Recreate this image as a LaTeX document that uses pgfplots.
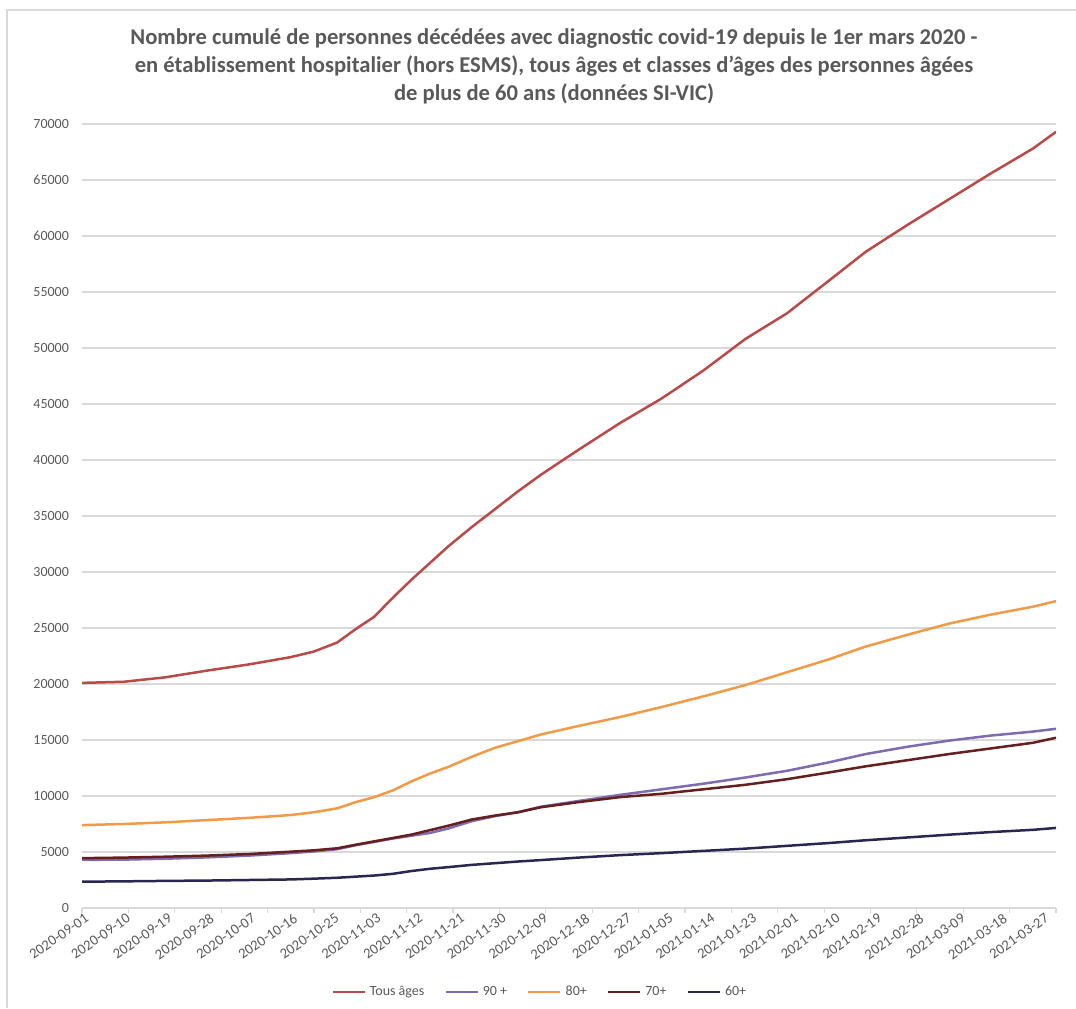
\documentclass[border=0pt]{standalone}
\usepackage{fontspec}
\setmainfont{Carlito}
\usepackage{pgfplots}
\pgfplotsset{compat=1.18}
\usepackage{pgfplotstable}

\definecolor{ctous}{HTML}{B94A48}
\definecolor{c90}{HTML}{7E6BB0}
\definecolor{c80}{HTML}{F39A47}
\definecolor{c70}{HTML}{651F1F}
\definecolor{c60}{HTML}{29264F}
\definecolor{txt}{HTML}{595959}
\definecolor{gridc}{HTML}{D9D9D9}

% day 0 = 2020-09-01
\pgfplotstableread{
d    tous   p90    p80    p70    p60
0    20100  4300   7400   4450   2350
9    20200  4320   7500   4500   2380
18   20600  4400   7650   4580   2420
27   21200  4520   7850   4680   2450
36   21750  4680   8050   4820   2500
45   22400  4900   8300   5030   2550
50   22900  5050   8550   5150   2620
55   23700  5250   8900   5330   2700
59   24900  5600   9450   5650   2800
63   26000  5900   9900   5950   2900
67   27700  6200   10500  6250   3050
71   29300  6450   11300  6550   3300
75   30800  6700   12000  6950   3500
79   32300  7100   12600  7350   3650
84   34000  7750   13500  7900   3850
89   35600  8200   14300  8250   4000
94   37200  8550   14900  8550   4150
99   38700  9050   15500  9000   4280
107  40900  9550   16250  9450   4500
116  43300  10100  17050  9900   4720
125  45500  10600  17950  10200  4900
134  48000  11100  18900  10600  5100
143  50800  11650  19900  11000  5300
152  53100  12250  21050  11500  5550
161  56000  13000  22200  12100  5800
169  58600  13750  23350  12650  6050
178  61000  14400  24400  13200  6300
187  63300  14950  25400  13750  6550
196  65600  15400  26200  14250  6780
205  67800  15750  26900  14750  6980
210  69300  16000  27400  15200  7150
}\deces

\begin{document}
\begin{tikzpicture}
\path[use as bounding box] (0,0) rectangle (538pt,504pt);
\draw[gridc, line width=0.6pt] (3.5pt,0pt) -- (3.5pt,499pt) -- (538pt,499pt);
\node[anchor=base, font=\bfseries\fontsize{11.3}{13}\selectfont, text=txt] at (277pt,481.5pt)
  {Nombre cumulé de personnes décédées avec diagnostic covid-19 depuis le 1er mars 2020 -};
\node[anchor=base, font=\bfseries\fontsize{11.3}{13}\selectfont, text=txt] at (277pt,467.5pt)
  {en établissement hospitalier (hors ESMS), tous âges et classes d'âges des personnes âgées};
\node[anchor=base, font=\bfseries\fontsize{11.3}{13}\selectfont, text=txt] at (277pt,453.5pt)
  {de plus de 60 ans (données SI-VIC)};
\begin{axis}[
    at={(41pt,50pt)}, anchor=south west,
    scale only axis,
    width=487pt, height=392pt,
    xmin=0, xmax=210,
    ymin=0, ymax=70000,
    ytick={0,5000,...,70000},
    scaled y ticks=false,
    /pgf/number format/1000 sep={},
    /pgf/number format/assume math mode=true,
    ymajorgrids,
    grid style={gridc, line width=0.6pt},
    axis x line*=bottom,
    axis y line*=left,
    x axis line style={gridc, line width=0.8pt, -},
    y axis line style={draw=none},
    xtick={0,9,...,207},
    xticklabels={2020-09-01,2020-09-10,2020-09-19,2020-09-28,2020-10-07,2020-10-16,2020-10-25,2020-11-03,2020-11-12,2020-11-21,2020-11-30,2020-12-09,2020-12-18,2020-12-27,2021-01-05,2021-01-14,2021-01-23,2021-02-01,2021-02-10,2021-02-19,2021-02-28,2021-03-09,2021-03-18,2021-03-27},
    minor xtick={0,10,...,210},
    major tick length=0pt,
    minor tick length=2.5pt,
    tick align=outside,
    xtick style={gridc, line width=0.6pt},
    ytick style={draw=none},
    xticklabel style={font=\fontsize{7.3}{8}\selectfont, text=txt, rotate=35, anchor=north east, xshift=3pt, yshift=1pt},
    yticklabel style={font=\fontsize{7}{8}\selectfont, text=txt, xshift=-3pt},
    legend columns=5,
    legend style={at={(0.471,0)}, yshift=-42pt, anchor=center, draw=none,
      font=\fontsize{7}{8}\selectfont, text=txt,
      /tikz/every even column/.append style={column sep=8pt}},
    legend image code/.code={\draw[#1] (0pt,0pt) -- (16pt,0pt);},
    every axis plot/.append style={line width=1.25pt, mark=none},
  ]
  \addplot[ctous] table[x=d, y=tous] {\deces};
  \addlegendentry{Tous âges}
  \addplot[c90] table[x=d, y=p90] {\deces};
  \addlegendentry{90 +}
  \addplot[c80] table[x=d, y=p80] {\deces};
  \addlegendentry{80+}
  \addplot[c70] table[x=d, y=p70] {\deces};
  \addlegendentry{70+}
  \addplot[c60] table[x=d, y=p60] {\deces};
  \addlegendentry{60+}
\end{axis}
\end{tikzpicture}
\end{document}
